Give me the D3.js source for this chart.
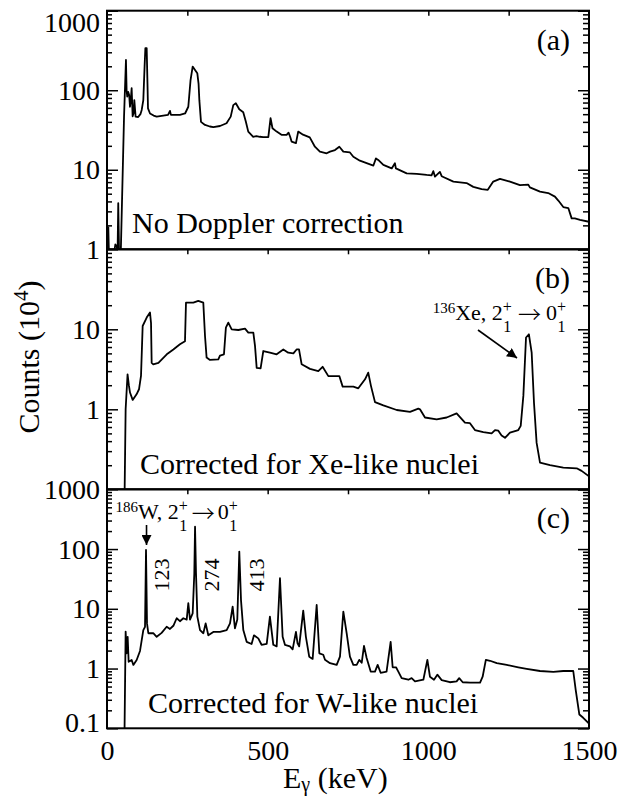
<!DOCTYPE html>
<html>
<head>
<meta charset="utf-8">
<script src="https://cdn.jsdelivr.net/npm/d3@7"></script>
<style>
  html, body { margin: 0; padding: 0; background: #fff; }
  svg { display: block; }
  text { font-family: "Liberation Serif", "Times New Roman", serif; fill: #000; white-space: pre; }
  text.arrowglyph { font-family: "Noto Sans CJK SC", "DejaVu Sans", sans-serif; font-weight: 300; }
</style>
</head>
<body>
<script>
// ---------------- DATA ----------------
// Panel (a): No Doppler correction
const energyA = [4,6,22,26,30,33,35,37.5,43,53,59,61,63,66,69,71.5,74,76.7,79.8,83,85,89,97,104,108,113,117,119.4,123.5,126,127.6,133.9,145,154.6,175,190,196,199,210,227,243,253,260,266.6,274,281,285,287.4,292.5,305,320,331,351.6,372,385,393,401,411.6,424,432,439.6,455,465,476,486,502,509,515,528,543,559,565,570,574.4,588,595,610,631,647,662.5,683.6,694,709.5,723,735.5,756,766.6,787,808,829,837,844,860,886,896,899,932.6,964,995,1010,1015.6,1020.7,1036,1041.5,1078,1119,1140,1166,1185,1202,1223,1254,1285,1311,1316,1347.5,1373,1394,1404.5,1420,1435.6,1446,1456,1472,1500];
const countsA = [1.93,0.9,0.9,1.15,1.1,0.95,3.8,0.95,0.95,46,240,100,83,95,87,62,75,106,47,52,75,46.6,46,50,56.5,75,200,337,337,120,59,51,48,46.6,48,49,55,49,49,49,51,62,134,198,180,164,120,75,40,36.6,35,34.3,35.5,38.5,46.6,65,68.6,57.6,53,40.5,30.2,26,26.5,26,25.8,25.8,44.5,33.3,30.2,27.5,27.5,29.3,26,22.6,21.6,30.2,27.6,25.5,19.5,16.9,16.1,16.9,17.7,19.5,16.9,16.5,14.6,13,12.1,11.3,13.9,13.3,11.5,10.4,12.1,10.4,9,8.9,8.6,8.5,9.6,8.2,9.4,8.3,7.1,6.8,6.1,5.7,5.6,7.1,7.7,7.1,6.4,6.5,6.0,5.3,5.1,4.6,4.1,3.4,3.3,2.45,2.45,2.35,2.22];

// Panel (b): Corrected for Xe-like nuclei
const energyB = [54,58,64,68,71.6,79.9,92,99.6,105.8,111,123.5,133.8,137,139,144,160,186,206.5,227,242.7,245.8,268.6,284,299.7,305,310,320.5,346.4,351.6,364,370,377.5,388,408.7,429.5,439.8,455.4,460.6,465.8,478,486.4,507,528,548.7,564,580,590,597.5,605.8,631.7,657.6,671,688.8,723,733.4,766.7,782,803,813,821.6,834,860,901.6,943,968.8,974,989.6,1026,1057,1088,1114,1129.6,1145,1171,1197,1207.5,1217.8,1228,1238.6,1254,1280,1287.5,1295.7,1304,1313,1321.6,1328.8,1337,1347.5,1378.6,1420,1461.6,1477,1500];
const countsB = [0.05,1.0,2.74,2.0,1.62,1.31,1.54,1.78,2.61,11,14,16.2,12,3.8,3.65,3.8,4.87,5.6,6.5,7.1,21.5,21.5,22.6,21.5,8.25,4.43,4.14,4.2,4.7,4.87,10.5,12.1,10,9.8,10.2,9.1,9.1,6.2,3.3,3.25,5.35,5.1,4.87,5.6,5.1,5.0,5.6,5.6,3.65,3.2,3.0,3.4,2.6,2.6,1.92,1.92,1.83,2.37,2.87,1.95,1.23,1.12,0.98,0.93,1.02,1.0,0.79,0.75,0.79,0.89,0.68,0.67,0.55,0.52,0.50,0.55,0.54,0.47,0.44,0.51,0.55,0.62,1.47,7.9,8.66,5.1,1.21,0.38,0.215,0.2,0.187,0.183,0.17,0.145];

// Panel (c): Corrected for W-like nuclei
const energyC = [54,58,61.2,64.3,67.4,76.8,82,92.3,102.7,113,118.3,121.4,124.5,128.6,144,154.6,170,185.7,196,206.5,216.8,227,237.5,248,253,258.3,266.6,271.7,274,277,281.2,289.5,299.8,307,315.3,330.8,351.6,372.4,382.8,391,398.2,405.5,411.7,417,424.2,434.6,450,457.4,470.8,481,497,507,517.5,528,538.3,546.6,553.8,569.4,577.7,588,593,598,610.7,619,629.3,640,652.5,660.8,673,678.4,694,714.8,725,735.5,745.8,756,766.6,777,785,792.6,799.8,808,820.6,834,842.3,851.6,870,882.7,889,899.4,906.6,917,937.8,948,958.5,984.5,997,1005,1017.6,1028,1041.6,1067,1088,1096,1107,1130,1161,1169,1179,1192,1213,1244,1280,1306,1347.5,1389,1420,1451,1458.6,1470,1482,1500];
const countsC = [0.05,4.15,1.8,3.4,1.3,1.39,1.15,1.39,1.97,4.4,5.0,96.6,5.7,3.9,3.9,3.4,3.95,5.0,4.6,5.2,6.95,6.2,6.95,6.6,12.4,6.6,8.4,39,237,39,7.4,4.4,3.9,5.7,3.6,4.1,4.1,4.4,5.7,10.9,4.7,6.6,90.5,14,4.4,2.8,2.58,3.6,3.2,2.5,2.58,7.4,2.5,2.35,32.5,3.4,2.5,2.35,2.1,4.1,2.65,2.35,9.3,3.4,1.58,1.45,11.6,1.8,1.7,1.4,1.23,1.15,1.58,9.0,3.9,1.58,1.15,1.15,1.4,1.25,2.4,1.5,0.89,0.89,1.15,0.85,0.89,2.8,1.05,1.05,0.89,0.69,0.65,0.69,0.61,0.65,1.4,0.73,0.65,0.79,0.64,0.59,0.61,0.69,0.59,0.58,0.58,0.73,1.4,1.35,1.23,1.15,1.05,0.99,0.91,0.88,0.91,0.91,0.44,0.17,0.15,0.12];

// Tick values / labels
const xTickValues = [0, 500, 1000, 1500];
const xTickLabels = ["0", "500", "1000", "1500"];
const xMinorTicks = [250, 500, 750, 1000, 1250];
const yTicksA = [1, 10, 100, 1000];
const yLabelsA = ["1", "10", "100", "1000"];
const yTicksB = [1, 10];
const yLabelsB = ["1", "10"];
const yTicksC = [0.1, 1, 10, 100, 1000];
const yLabelsC = ["0.1", "1", "10", "100", "1000"];
const panelTags = ["(a)", "(b)", "(c)"];
const panelNotes = ["No Doppler correction", "Corrected for Xe-like nuclei", "Corrected for W-like nuclei"];
const wPeakLabels = ["123", "274", "413"];
const wPeakEnergies = [123, 274, 413];

// ---------------- LAYOUT ----------------
const W = 631, H = 796;
const X0 = 107, X1 = 589;
const FONT = '"Liberation Serif", "Times New Roman", serif';

const svg = d3.select("body").append("svg").attr("width", W).attr("height", H);

const x = d3.scaleLinear().domain([0, 1500]).range([X0, X1]);
const yA = d3.scaleLog().domain([1, 1000]).range([249.3, 10.7]);
const yB = d3.scaleLog().domain([0.1, 100]).range([489.3, 249.3]);
const yC = d3.scaleLog().domain([0.1, 1000]).range([728.3, 489.3]);

const panels = [
  { E: energyA, C: countsA, y: yA, ticks: yTicksA, labels: yLabelsA, noteX: 132, noteY: 233 },
  { E: energyB, C: countsB, y: yB, ticks: yTicksB, labels: yLabelsB, noteX: 140, noteY: 474 },
  { E: energyC, C: countsC, y: yC, ticks: yTicksC, labels: yLabelsC, noteX: 148, noteY: 713 }
];

const isPow10 = v => Math.abs(Math.log10(v) - Math.round(Math.log10(v))) < 1e-9;

function styleAxis(g) {
  g.attr("font-family", FONT);
  g.select(".domain").remove();
  g.selectAll(".tick line").attr("stroke", "#000").attr("stroke-width", 1.5);
  g.selectAll("text").attr("font-family", FONT).attr("font-size", 28).attr("fill", "#000");
}

panels.forEach((p, i) => {
  const [yBot, yTop] = p.y.range();
  const g = svg.append("g");

  const cid = "clip" + i;
  svg.append("clipPath").attr("id", cid).append("rect")
    .attr("x", X0).attr("y", yTop).attr("width", X1 - X0).attr("height", yBot - yTop);

  const data = p.E.map((e, k) => [e, p.C[k]]);
  const line = d3.line().x(d => x(d[0])).y(d => p.y(Math.max(d[1], 1e-3)));
  g.append("path").datum(data)
    .attr("clip-path", `url(#${cid})`)
    .attr("fill", "none").attr("stroke", "#000").attr("stroke-width", 1.8)
    .attr("stroke-linejoin", "round")
    .attr("d", line);

  const minor = p.y.ticks().filter(v => !isPow10(v));
  const major = p.y.ticks().filter(v => isPow10(v));
  g.append("g").attr("transform", `translate(${X0},0)`)
    .call(d3.axisLeft(p.y).tickValues(minor).tickSizeInner(-5).tickSizeOuter(0).tickFormat(""))
    .call(styleAxis);
  g.append("g").attr("transform", `translate(${X1},0)`)
    .call(d3.axisRight(p.y).tickValues(minor).tickSizeInner(-6).tickSizeOuter(0).tickFormat(""))
    .call(styleAxis);
  g.append("g").attr("transform", `translate(${X1},0)`)
    .call(d3.axisRight(p.y).tickValues(major).tickSizeInner(-11).tickSizeOuter(0).tickFormat(""))
    .call(styleAxis);
  const lab = g.append("g").attr("transform", `translate(${X0},0)`)
    .call(d3.axisLeft(p.y).tickValues(p.ticks).tickSizeInner(-11).tickSizeOuter(0).tickPadding(7)
      .tickFormat((d, k) => p.labels[k]))
    .call(styleAxis);
  if (i === 0) lab.selectAll(".tick text").filter(d => d === 1000).attr("dy", "0.75em");
  if (i === 2) lab.selectAll(".tick text").filter(d => d === 0.1).attr("dy", "0.1em");

  g.append("g").attr("transform", `translate(0,${yTop})`)
    .call(d3.axisTop(x).tickValues(xMinorTicks).tickSizeInner(-5).tickSizeOuter(0).tickFormat(""))
    .call(styleAxis);

  g.append("rect").attr("x", X0).attr("y", yTop).attr("width", X1 - X0).attr("height", yBot - yTop)
    .attr("fill", "none").attr("stroke", "#000").attr("stroke-width", 2);

  g.append("text").attr("x", 570).attr("y", yTop + 38.8).attr("text-anchor", "end")
    .attr("font-size", 30).text(panelTags[i]);
  g.append("text").attr("x", p.noteX).attr("y", p.noteY).attr("font-size", 30).text(panelNotes[i]);
});

// bottom x labels
svg.append("g").attr("transform", `translate(0,${yC.range()[0]})`)
  .call(d3.axisBottom(x).tickValues(xTickValues).tickSize(0).tickPadding(12)
    .tickFormat((d, k) => xTickLabels[k]))
  .call(styleAxis);

// axis titles
const xt = svg.append("text").attr("x", 283).attr("y", 788).attr("font-size", 30);
xt.append("tspan").text("E");
xt.append("tspan").attr("font-size", 20).attr("dy", 3).text("γ");
xt.append("tspan").attr("dy", -3).text("\u00A0(keV)");

const yt = svg.append("text").attr("transform", "translate(39,357) rotate(-90)")
  .attr("text-anchor", "middle").attr("font-size", 30);
yt.append("tspan").text("Counts (10");
yt.append("tspan").attr("font-size", 21).attr("dy", -11).text("4");
yt.append("tspan").attr("dy", 11).text(")");

// rich text helper for nuclear-level labels
function rich(x0, y0, parts) {
  let cx = x0;
  parts.forEach(pt => {
    if (pt.stack) {
      const ws = pt.stack.map(s => {
        const t = svg.append("text").attr("y", y0 + (s.dy || 0)).attr("font-size", s.size).text(s.text);
        return { t, w: t.node().getComputedTextLength() };
      });
      const mw = d3.max(ws, o => o.w);
      ws.forEach(o => o.t.attr("x", cx + (mw - o.w) / 2));
      cx += mw;
    } else if (pt.gap) {
      cx += pt.gap;
    } else {
      const t = svg.append("text").attr("x", cx).attr("y", y0 + (pt.dy || 0)).attr("font-size", pt.size).text(pt.text);
      if (pt.cls) t.attr("class", pt.cls);
      cx += t.node().getComputedTextLength();
    }
  });
}
const levelStack = { stack: [{ text: "+", size: 16, dy: -8 }, { text: "1", size: 16, dy: 12 }] };
rich(432.7, 319.5, [{ text: "136", size: 15, dy: -7 }, { text: "Xe,\u00A02", size: 22 }, levelStack,
  { gap: 6 }, { text: "\u2192", size: 23, dy: 3, cls: "arrowglyph" }, { gap: 5 }, { text: "0", size: 22 }, levelStack]);
rich(115.5, 519, [{ text: "186", size: 15, dy: -7 }, { text: "W,\u00A02", size: 22 }, levelStack,
  { gap: 4 }, { text: "\u2192", size: 23, dy: 3, cls: "arrowglyph" }, { gap: 3 }, { text: "0", size: 22 }, levelStack]);

// arrows
svg.append("defs").append("marker").attr("id", "ah").attr("viewBox", "0 0 10 10")
  .attr("refX", 10).attr("refY", 5).attr("markerWidth", 10).attr("markerHeight", 10)
  .attr("markerUnits", "userSpaceOnUse").attr("orient", "auto")
  .append("path").attr("d", "M0,0 L10,5 L0,10 Z").attr("fill", "#000");
svg.append("line").attr("x1", 478).attr("y1", 330).attr("x2", 517).attr("y2", 358)
  .attr("stroke", "#000").attr("stroke-width", 1.6).attr("marker-end", "url(#ah)");
svg.append("line").attr("x1", x(wPeakEnergies[0])).attr("y1", 525).attr("x2", x(wPeakEnergies[0])).attr("y2", 545)
  .attr("stroke", "#000").attr("stroke-width", 1.6).attr("marker-end", "url(#ah)");

// rotated peak labels in (c)
const peakLabelX = [161, 211, 256];
wPeakLabels.forEach((t, k) => {
  svg.append("text").attr("transform", `translate(${peakLabelX[k] + 7.5},575) rotate(-90)`)
    .attr("text-anchor", "middle").attr("font-size", 22).text(t);
});
</script>
</body>
</html>
